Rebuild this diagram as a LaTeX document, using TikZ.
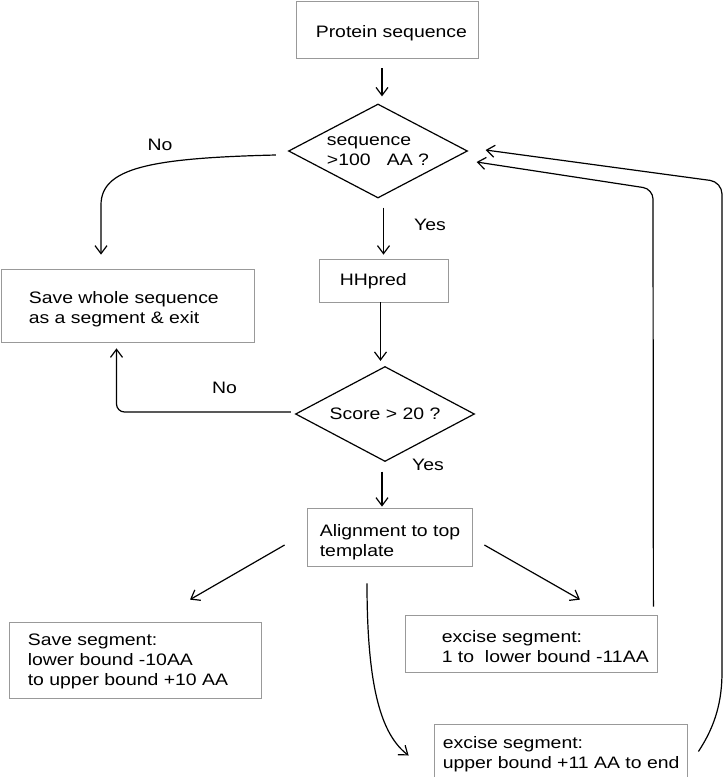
\documentclass[tikz,border=0pt]{standalone}
\usepackage{fontspec}
\setmainfont{Liberation Sans}[FakeStretch=1.17]
\usetikzlibrary{arrows.meta,positioning,shapes.geometric,calc}
\newcommand{\flowfont}{\fontsize{16.6}{20}\selectfont}

\begin{document}
\begin{tikzpicture}[x=1pt,y=-1pt,
  procbox/.style={draw=black!40, line width=0.8pt, inner sep=0pt},
  decide/.style={diamond, aspect=1.9, draw, line width=1.2pt, inner sep=0pt, align=left, font=\flowfont},
  flowtext/.style={inner sep=0pt, align=left, anchor=west, font=\flowfont},
  answer/.style={inner sep=0pt, font=\flowfont},
  flowarrow/.style={-{Straight Barb[length=8pt,width=12pt]}, line width=1.2pt}]
  \useasboundingbox (0,0) rectangle (725,777);

  %% --- input and length test ---
  \node[procbox, minimum width=182pt, minimum height=57pt] (seqbox) at (387,29.5) {};
  \node[flowtext] (seqbox-t) at ($(seqbox.west)+(20,4)$) {Protein sequence};
  \node[decide, minimum width=179pt, minimum height=94pt] (lenq) at (378,151) {sequence\\>100\ \ \ AA ?};

  \node[procbox, minimum width=253pt, minimum height=73pt] (wholebox) at (127.5,305.5) {};
  \node[flowtext] (wholebox-t) at ($(wholebox.west)+(28,3.5)$) {Save whole sequence\\as a segment \& exit};

  %% --- HHpred and score test ---
  \node[procbox, minimum width=129pt, minimum height=43pt] (hhpred) at (383.5,280.5) {};
  \node[flowtext] (hhpred-t) at ($(hhpred.west)+(21,1)$) {HHpred};
  \node[decide, minimum width=179pt, minimum height=95pt] (scoreq) at (385,414) {Score > 20 ?};

  \node[procbox, minimum width=165pt, minimum height=58pt] (alignbox) at (389.5,537) {};
  \node[flowtext] (alignbox-t) at ($(alignbox.west)+(13,5)$) {Alignment to top\\template};

  %% --- segment boxes ---
  \node[procbox, minimum width=252pt, minimum height=76pt] (savebox) at (135,660) {};
  \node[flowtext] (savebox-t) at ($(savebox.west)+(19,1)$) {Save segment:\\lower bound -10AA\\to upper bound +10 AA};
  \node[procbox, minimum width=252pt, minimum height=57pt] (cutlow) at (531,643.5) {};
  \node[flowtext] (cutlow-t) at ($(cutlow.west)+(37,3.5)$) {excise segment:\\1 to\ \ lower bound -11AA};
  \node[procbox, minimum width=253pt, minimum height=55pt] (cuthigh) at (560.5,751.5) {};
  \node[flowtext] (cuthigh-t) at ($(cuthigh.west)+(9,3)$) {excise segment:\\upper bound +11 AA to end};

  %% --- answers ---
  \node[answer] (no1)  at (160,145)   {No};
  \node[answer] (yes1) at (430,224.5) {Yes};
  \node[answer] (no2)  at (224.5,388) {No};
  \node[answer] (yes2) at (428,465)   {Yes};

  %% --- connectors ---
  \draw[flowarrow, shorten <=10pt, shorten >=7pt] ($(seqbox.south)+(-5,0)$) -- ($(lenq.north)+(4,0)$);
  \draw[flowarrow] ($(lenq.west)+(-12,4)$) .. controls (150,158) and (101,168) .. (101,205) -- ($(wholebox.north)+(-26.5,-14)$);
  \draw[flowarrow, shorten <=9pt, shorten >=4pt] (lenq.south -| hhpred.north) -- (hhpred.north);
  \draw[flowarrow, shorten >=5pt] ($(hhpred.south)+(-3,0)$) -- ($(scoreq.north)+(-4.5,0)$);
  \draw[flowarrow, rounded corners=8pt] ($(scoreq.west)+(-4,-2)$) -| ($(wholebox.south)+(-11,6)$);
  \draw[flowarrow] ($(alignbox.north)+(-7.5,-36)$) -- ($(alignbox.north)+(-7.5,-1)$);

  \draw[flowarrow] ($(alignbox.west)+(-22,8)$) -- ($(savebox.north)+(55,-22)$);
  \draw[flowarrow] ($(alignbox.east)+(12,8)$) -- ($(cutlow.north)+(49,-15)$);
  \draw[flowarrow] ($(alignbox.south)+(-22.5,17)$) .. controls (367,690) and (382,735) .. ($(cuthigh.west)+(-25,4)$);

  %% --- loops back to the length test ---
  \coordinate (bendin)  at (653,189);
  \coordinate (bendout) at (722,182);
  \draw[flowarrow, rounded corners=10pt] ($(cutlow.north east)+(-4,-8)$) -- (bendin) -- ($(lenq.east)+(8.5,11)$);
  \draw[flowarrow, rounded corners=12pt] ($(cuthigh.east)+(11,0)$) .. controls (716,725) and (722,700) .. (722,660) -- (bendout) -- ($(lenq.east)+(17.5,-1)$);
\end{tikzpicture}
\end{document}
